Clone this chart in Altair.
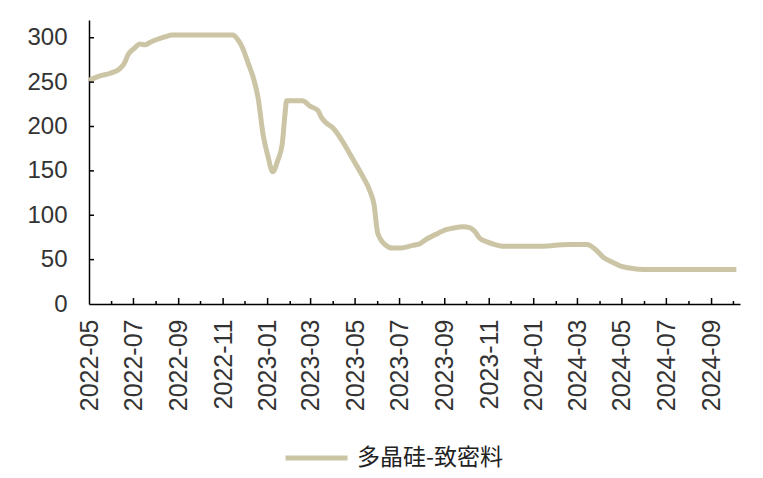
import altair as alt
import pandas as pd

series_name = "多晶硅-致密料"
dates = [
    "2022-05-01", "2022-05-16", "2022-05-30", "2022-06-12", "2022-06-19", "2022-06-23",
    "2022-07-02", "2022-07-10", "2022-07-17", "2022-07-24", "2022-08-02", "2022-08-13",
    "2022-08-23", "2022-11-14", "2022-11-21", "2022-11-28", "2022-12-05", "2022-12-12",
    "2022-12-19", "2022-12-26", "2023-01-01", "2023-01-08", "2023-01-15", "2023-01-21",
    "2023-01-25", "2023-01-27", "2023-02-18", "2023-02-28", "2023-03-11", "2023-03-16",
    "2023-03-21", "2023-04-01", "2023-04-14", "2023-04-28", "2023-05-12", "2023-05-21",
    "2023-05-27", "2023-06-01", "2023-06-11", "2023-06-22", "2023-07-01", "2023-07-19",
    "2023-07-29", "2023-08-07", "2023-08-21", "2023-09-04", "2023-09-15", "2023-09-26",
    "2023-10-05", "2023-10-12", "2023-10-19", "2023-10-29", "2023-11-09", "2023-11-20",
    "2024-01-05", "2024-02-19", "2024-03-14", "2024-03-25", "2024-04-05", "2024-04-18",
    "2024-05-02", "2024-05-16", "2024-05-30", "2024-10-05",
]
prices = [
    252, 257, 260, 265, 272, 280,
    288, 293, 292, 295, 298, 301,
    303, 303, 298, 288, 272, 256,
    232, 190, 168, 149, 162, 180,
    215, 229, 229, 223, 218, 210,
    205, 198, 183, 163, 143, 128,
    112, 80, 67, 63, 63, 66,
    68, 73, 79, 84, 86, 87,
    86, 82, 74, 70, 67, 65,
    65, 67, 67, 62, 53, 47,
    42, 40, 39, 39,
]
label_months = ["2022-05-01", "2022-07-01", "2022-09-01", "2022-11-01", "2023-01-01",
                "2023-03-01", "2023-05-01", "2023-07-01", "2023-09-01", "2023-11-01",
                "2024-01-01", "2024-03-01", "2024-05-01", "2024-07-01", "2024-09-01"]
minor_months = ["2022-06-01", "2022-08-01", "2022-10-01", "2022-12-01", "2023-02-01",
                "2023-04-01", "2023-06-01", "2023-08-01", "2023-10-01", "2023-12-01",
                "2024-02-01", "2024-04-01", "2024-06-01", "2024-08-01", "2024-10-01"]
y_ticks = [0, 50, 100, 150, 200, 250, 300]

line_color = "#CBC5A5"
W, H = 651, 284

df = pd.DataFrame({"date": dates, "price": prices, "series": series_name})
df_major = pd.DataFrame({"date": label_months[1:]})
df_minor = pd.DataFrame({"date": minor_months})
df_y = pd.DataFrame({"v": y_ticks[1:]})

xscale = alt.Scale(domain=["2022-05-01", "2024-10-10"])
yscale = alt.Scale(domain=[0, 320])

line = alt.Chart(df).mark_line(strokeWidth=5, interpolate="monotone").encode(
    x=alt.X("date:T", scale=xscale,
            axis=alt.Axis(values=label_months, format="%Y-%m", labelAngle=-90,
                          tickSize=0, labelPadding=15, labelFontSize=25,
                          title=None, grid=False)),
    y=alt.Y("price:Q", scale=yscale,
            axis=alt.Axis(values=y_ticks, tickSize=0, labelPadding=22, labelFontSize=24,
                          title=None, grid=False)),
    color=alt.Color("series:N", scale=alt.Scale(range=[line_color]),
                    legend=alt.Legend(title=None, orient="none", legendX=194, legendY=420,
                                      symbolType="stroke", symbolStrokeWidth=5,
                                      symbolSize=3844, clipHeight=36, labelLimit=400,
                                      labelFont="Noto Sans CJK SC",
                                      labelFontSize=23, labelColor="#222222",
                                      labelOffset=7, padding=0)),
)

major = alt.Chart(df_major).mark_rule(color="black", strokeWidth=1.5).encode(
    x=alt.X("date:T", scale=xscale), y=alt.value(H), y2=alt.value(H - 6))
minor = alt.Chart(df_minor).mark_rule(color="black", strokeWidth=1.5).encode(
    x=alt.X("date:T", scale=xscale), y=alt.value(H), y2=alt.value(H - 3))
yt = alt.Chart(df_y).mark_rule(color="black", strokeWidth=1.5).encode(
    y=alt.Y("v:Q", scale=yscale), x=alt.value(0), x2=alt.value(5))

chart = alt.layer(line, major, minor, yt).properties(
    width=W, height=H,
    autosize=alt.AutoSizeParams(type="none"),
    padding={"left": 81, "top": 12, "right": 15, "bottom": 166},
).configure_view(stroke=None).configure_axis(
    domainColor="black", domainWidth=1.5,
    labelFont="Liberation Sans", labelColor="#333333",
)

chart.save("out.html", embed_options={"renderer": "svg", "actions": False})
